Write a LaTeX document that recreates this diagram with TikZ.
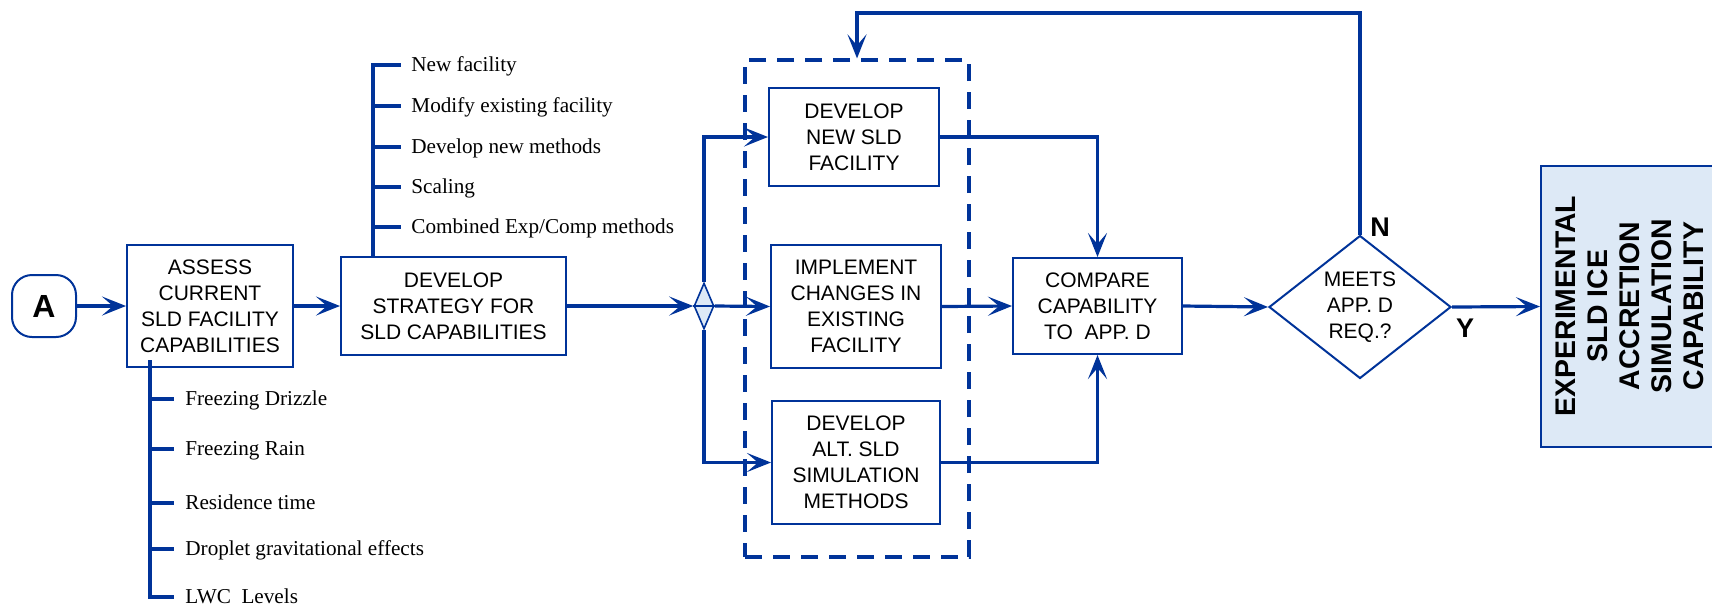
\documentclass[tikz,border=0pt]{standalone}
\usepackage{fontspec}
\setmainfont{Liberation Serif}
\setsansfont{Liberation Sans}
\usetikzlibrary{arrows.meta,shapes.geometric,calc}
\definecolor{navy}{RGB}{0,51,153}
\definecolor{paleblue}{RGB}{221,233,246}
\begin{document}
\begin{tikzpicture}[x=0.5pt,y=-0.5pt,
  boxtext/.style={font=\sffamily\fontsize{10.5}{13}\selectfont},
  proc/.style={draw=navy,line width=1pt,fill=white,align=center,inner sep=0pt,boxtext},
  conn/.style={draw=navy,line width=1.6pt,-{Stealth[length=12pt,width=9.5pt,inset=5.5pt]}},
  bul/.style={draw=navy,line width=1.7pt},
  item/.style={anchor=west,inner sep=0pt,text height=6pt,text depth=0pt,font=\rmfamily\fontsize{10.6}{13}\selectfont},
  grpbox/.style={draw=navy,line width=1.6pt,dash pattern=on 8.5pt off 5.5pt,inner sep=0pt,minimum width=112pt,minimum height=248.5pt},
  yn/.style={font=\sffamily\bfseries\fontsize{13.5}{16}\selectfont,inner sep=0pt}]
\useasboundingbox (0,0) rectangle (1712,607);
\clip (0,0) rectangle (1712,607);

% dashed group around the three alternatives
\node[grpbox] (grp) at (857,308.5) {};

% process boxes
\node[draw=navy,line width=1pt,rounded corners=10pt,minimum width=32pt,minimum height=31pt,inner sep=0pt,
      font=\sffamily\bfseries\fontsize{16}{18}\selectfont] (A) at (44,306) {A};
\node[proc,minimum width=83pt,minimum height=61pt] (assess) at (210,306)
  {ASSESS\\CURRENT\\SLD FACILITY\\CAPABILITIES};
\node[proc,minimum width=112.5pt,minimum height=49pt] (strat) at (453.5,306)
  {DEVELOP\\STRATEGY FOR\\SLD CAPABILITIES};
\node[diamond,draw=navy,line width=0.8pt,fill=paleblue,minimum width=10pt,minimum height=23pt,inner sep=0pt] (sd) at (704,306) {};
\node[proc,minimum width=85pt,minimum height=49pt] (newf) at (854,137)
  {DEVELOP\\NEW SLD\\FACILITY};
\node[proc,minimum width=85pt,minimum height=61.5pt] (impl) at (856,306.5)
  {IMPLEMENT\\CHANGES IN\\EXISTING\\FACILITY};
\node[proc,minimum width=84pt,minimum height=61.5pt] (alt) at (856,462.5)
  {DEVELOP\\ALT. SLD\\SIMULATION\\METHODS};
\node[proc,minimum width=84.5pt,minimum height=48pt] (cmp) at (1097.5,306)
  {COMPARE\\CAPABILITY\\TO\ \ APP. D};
\node[diamond,draw=navy,line width=1pt,fill=white,minimum width=91pt,minimum height=64pt,inner sep=0pt,
      align=center,boxtext] (dec) at (1360,307) {MEETS\\APP. D\\REQ.?};
\node[draw=navy,line width=1pt,fill=paleblue,minimum width=92pt,minimum height=140.5pt,inner sep=0pt] (fin) at (1633,306.5) {};
\node[rotate=90,align=center,inner sep=0pt,font=\sffamily\bfseries\fontsize{14.2}{16}\selectfont] (fintext) at (1630,306)
  {EXPERIMENTAL\\SLD ICE\\ACCRETION\\SIMULATION\\CAPABILITY};

% thin line across the small branch diamond
\draw[navy,line width=0.6pt] (sd.west) -- (sd.east);

% main flow
\draw[conn] (A.east) -- (assess.west);
\draw[conn] (assess.east) -- (strat.west);
\draw[conn] (strat.east) -- (sd.west);
\draw[conn] (sd.east) -- (impl.west);
\draw[conn] (sd.north) |- (newf.west);
\draw[conn] (sd.south) |- (alt.west);
\draw[conn] (newf.east) -| (cmp.north);
\draw[conn] (alt.east) -| (cmp.south);
\draw[conn] (impl.east) -- (cmp.west);
\draw[conn] (cmp.east) -- (dec.west);
\draw[conn] (dec.east) -- (fin.west);

% feedback loop when requirements are not met
\coordinate (looptop) at (0,13);
\draw[conn] (dec.north) -- (dec.north |- looptop) -| (grp.north);

\node[yn] (nlab) at (1380,227) {N};
\node[yn] (ylab) at (1465,328) {Y};

% strategy options
\node[item] (s1) at (411,65) {New facility};
\node[item] (s2) at (411,106) {Modify existing facility};
\node[item] (s3) at (411,147) {Develop new methods};
\node[item] (s4) at (411,187) {Scaling};
\node[item] (s5) at (411,227) {Combined Exp/Comp methods};
\coordinate (sbar) at ($(strat.north west)+(33,0)$);
\draw[bul] (sbar) |- ([xshift=-5pt]s1.west);
\foreach \n in {s2,s3,s4,s5}
  \draw[bul] (sbar |- \n.west) -- ([xshift=-5pt]\n.west);

% assessment topics
\node[item] (b1) at (185,399) {Freezing Drizzle};
\node[item] (b2) at (185,449) {Freezing Rain};
\node[item] (b3) at (185,503) {Residence time};
\node[item] (b4) at (185,549) {Droplet gravitational effects};
\node[item] (b5) at (185,597) {LWC\ \ Levels};
\coordinate (abar) at ($(assess.south west)+(24,-8)$);
\draw[bul] (abar) |- ([xshift=-5.5pt]b5.west);
\foreach \n in {b1,b2,b3,b4}
  \draw[bul] (abar |- \n.west) -- ([xshift=-5.5pt]\n.west);
\end{tikzpicture}
\end{document}
